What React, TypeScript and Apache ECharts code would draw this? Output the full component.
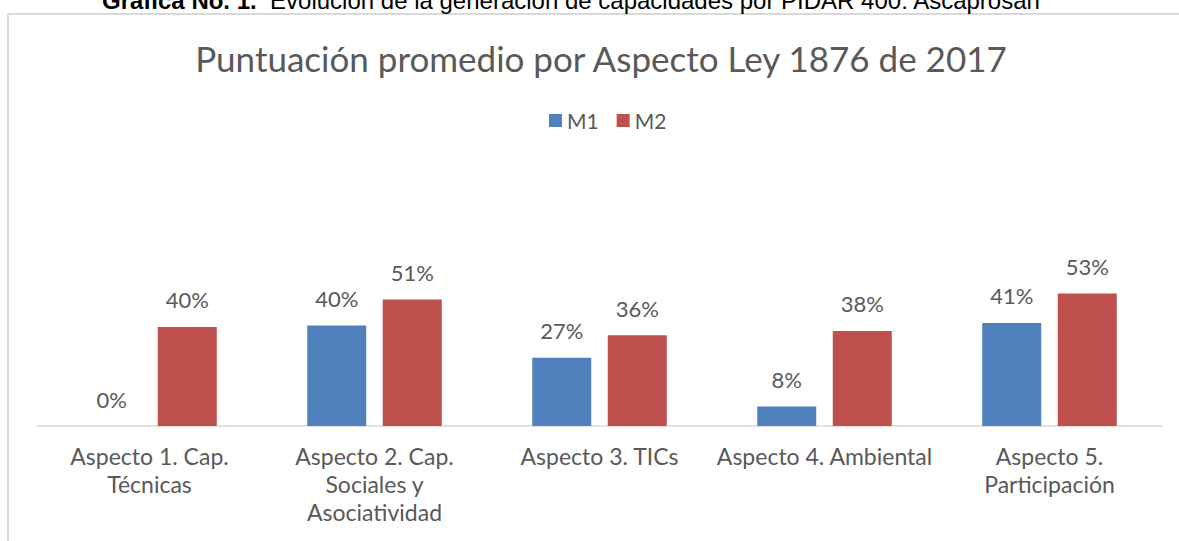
import React, { useEffect, useRef } from "react";
import * as echarts from "echarts";

const categories = [
  "Aspecto 1. Cap.\nTécnicas",
  "Aspecto 2. Cap.\nSociales y\nAsociatividad",
  "Aspecto 3. TICs",
  "Aspecto 4. Ambiental",
  "Aspecto 5.\nParticipación",
];
const seriesNames = ["M1", "M2"];
const m1Values = [0, 40.4, 27.4, 7.8, 41.4];
const m2Values = [39.8, 50.8, 36.4, 38.2, 53.2];
const colors = ["#4F81BD", "#C0504D"];
const titleText = "Puntuación promedio por Aspecto Ley 1876 de 2017";
const captionBold = "Gráfica No. 1.";
const captionRest = "  Evolución de la generación de capacidades por PIDAR 400: Ascaprosan";

const FONT = "Lato, 'Noto Sans', sans-serif";
const GREY = "#595959";

export default function App() {
  const ref = useRef<HTMLDivElement>(null);
  useEffect(() => {
    if (!ref.current) return;
    const chart = echarts.init(ref.current, undefined, { renderer: "svg" });
    const fmt = (p: any) => Math.round(p.value) + "%";
    const mkSeries = (name: string, data: number[], color: string) => ({
      name,
      type: "bar",
      data,
      barWidth: 59,
      barGap: "28%",
      itemStyle: { color },
      label: {
        show: true,
        position: "top",
        distance: 16,
        formatter: fmt,
        color: GREY,
        fontFamily: FONT,
        fontSize: 22,
      },
    });
    chart.setOption({
      animation: false,
      backgroundColor: "#ffffff",
      title: {
        text: titleText,
        left: 596,
        textAlign: "center",
        top: 35,
        textStyle: { color: GREY, fontFamily: FONT, fontSize: 35, fontWeight: "normal" },
      },
      legend: {
        data: seriesNames,
        top: 105,
        left: 544,
        itemWidth: 13,
        itemHeight: 13,
        itemGap: 18,
        icon: "rect",
        textStyle: { color: GREY, fontFamily: FONT, fontSize: 21 },
      },
      grid: { left: 37, right: 17, top: 177, bottom: 115 },
      xAxis: {
        type: "category",
        data: categories,
        axisTick: { show: false },
        axisLine: { lineStyle: { color: "#d9d9d9", width: 1.5 } },
        axisLabel: {
          color: GREY,
          fontFamily: FONT,
          fontSize: 23,
          lineHeight: 28,
          margin: 16,
          interval: 0,
        },
      },
      yAxis: { type: "value", min: 0, max: 100, show: false },
      series: [
        mkSeries(seriesNames[0], m1Values, colors[0]),
        mkSeries(seriesNames[1], m2Values, colors[1]),
      ],
      graphic: [
        {
          type: "rect",
          shape: { x: 8, y: 14, width: 1200, height: 600 },
          style: { fill: "none", stroke: "#d9d9d9", lineWidth: 2 },
          silent: true,
        },
        {
          type: "text",
          x: 102,
          y: 12,
          style: {
            text: "{b|" + captionBold + "}{r|" + captionRest + "}",
            verticalAlign: "bottom",
            rich: {
              b: { fontFamily: "'Liberation Sans Narrow', 'Liberation Sans', Arial, sans-serif", fontWeight: "bold", fontSize: 24, fill: "#000" },
              r: { fontFamily: "'Liberation Sans Narrow', 'Liberation Sans', Arial, sans-serif", fontSize: 24, fill: "#000" },
            },
          },
          silent: true,
        },
      ],
    });
    return () => chart.dispose();
  }, []);
  return (
    <div
      ref={ref}
      style={{ position: "absolute", left: 0, top: 0, width: 1179, height: 541 }}
    />
  );
}
